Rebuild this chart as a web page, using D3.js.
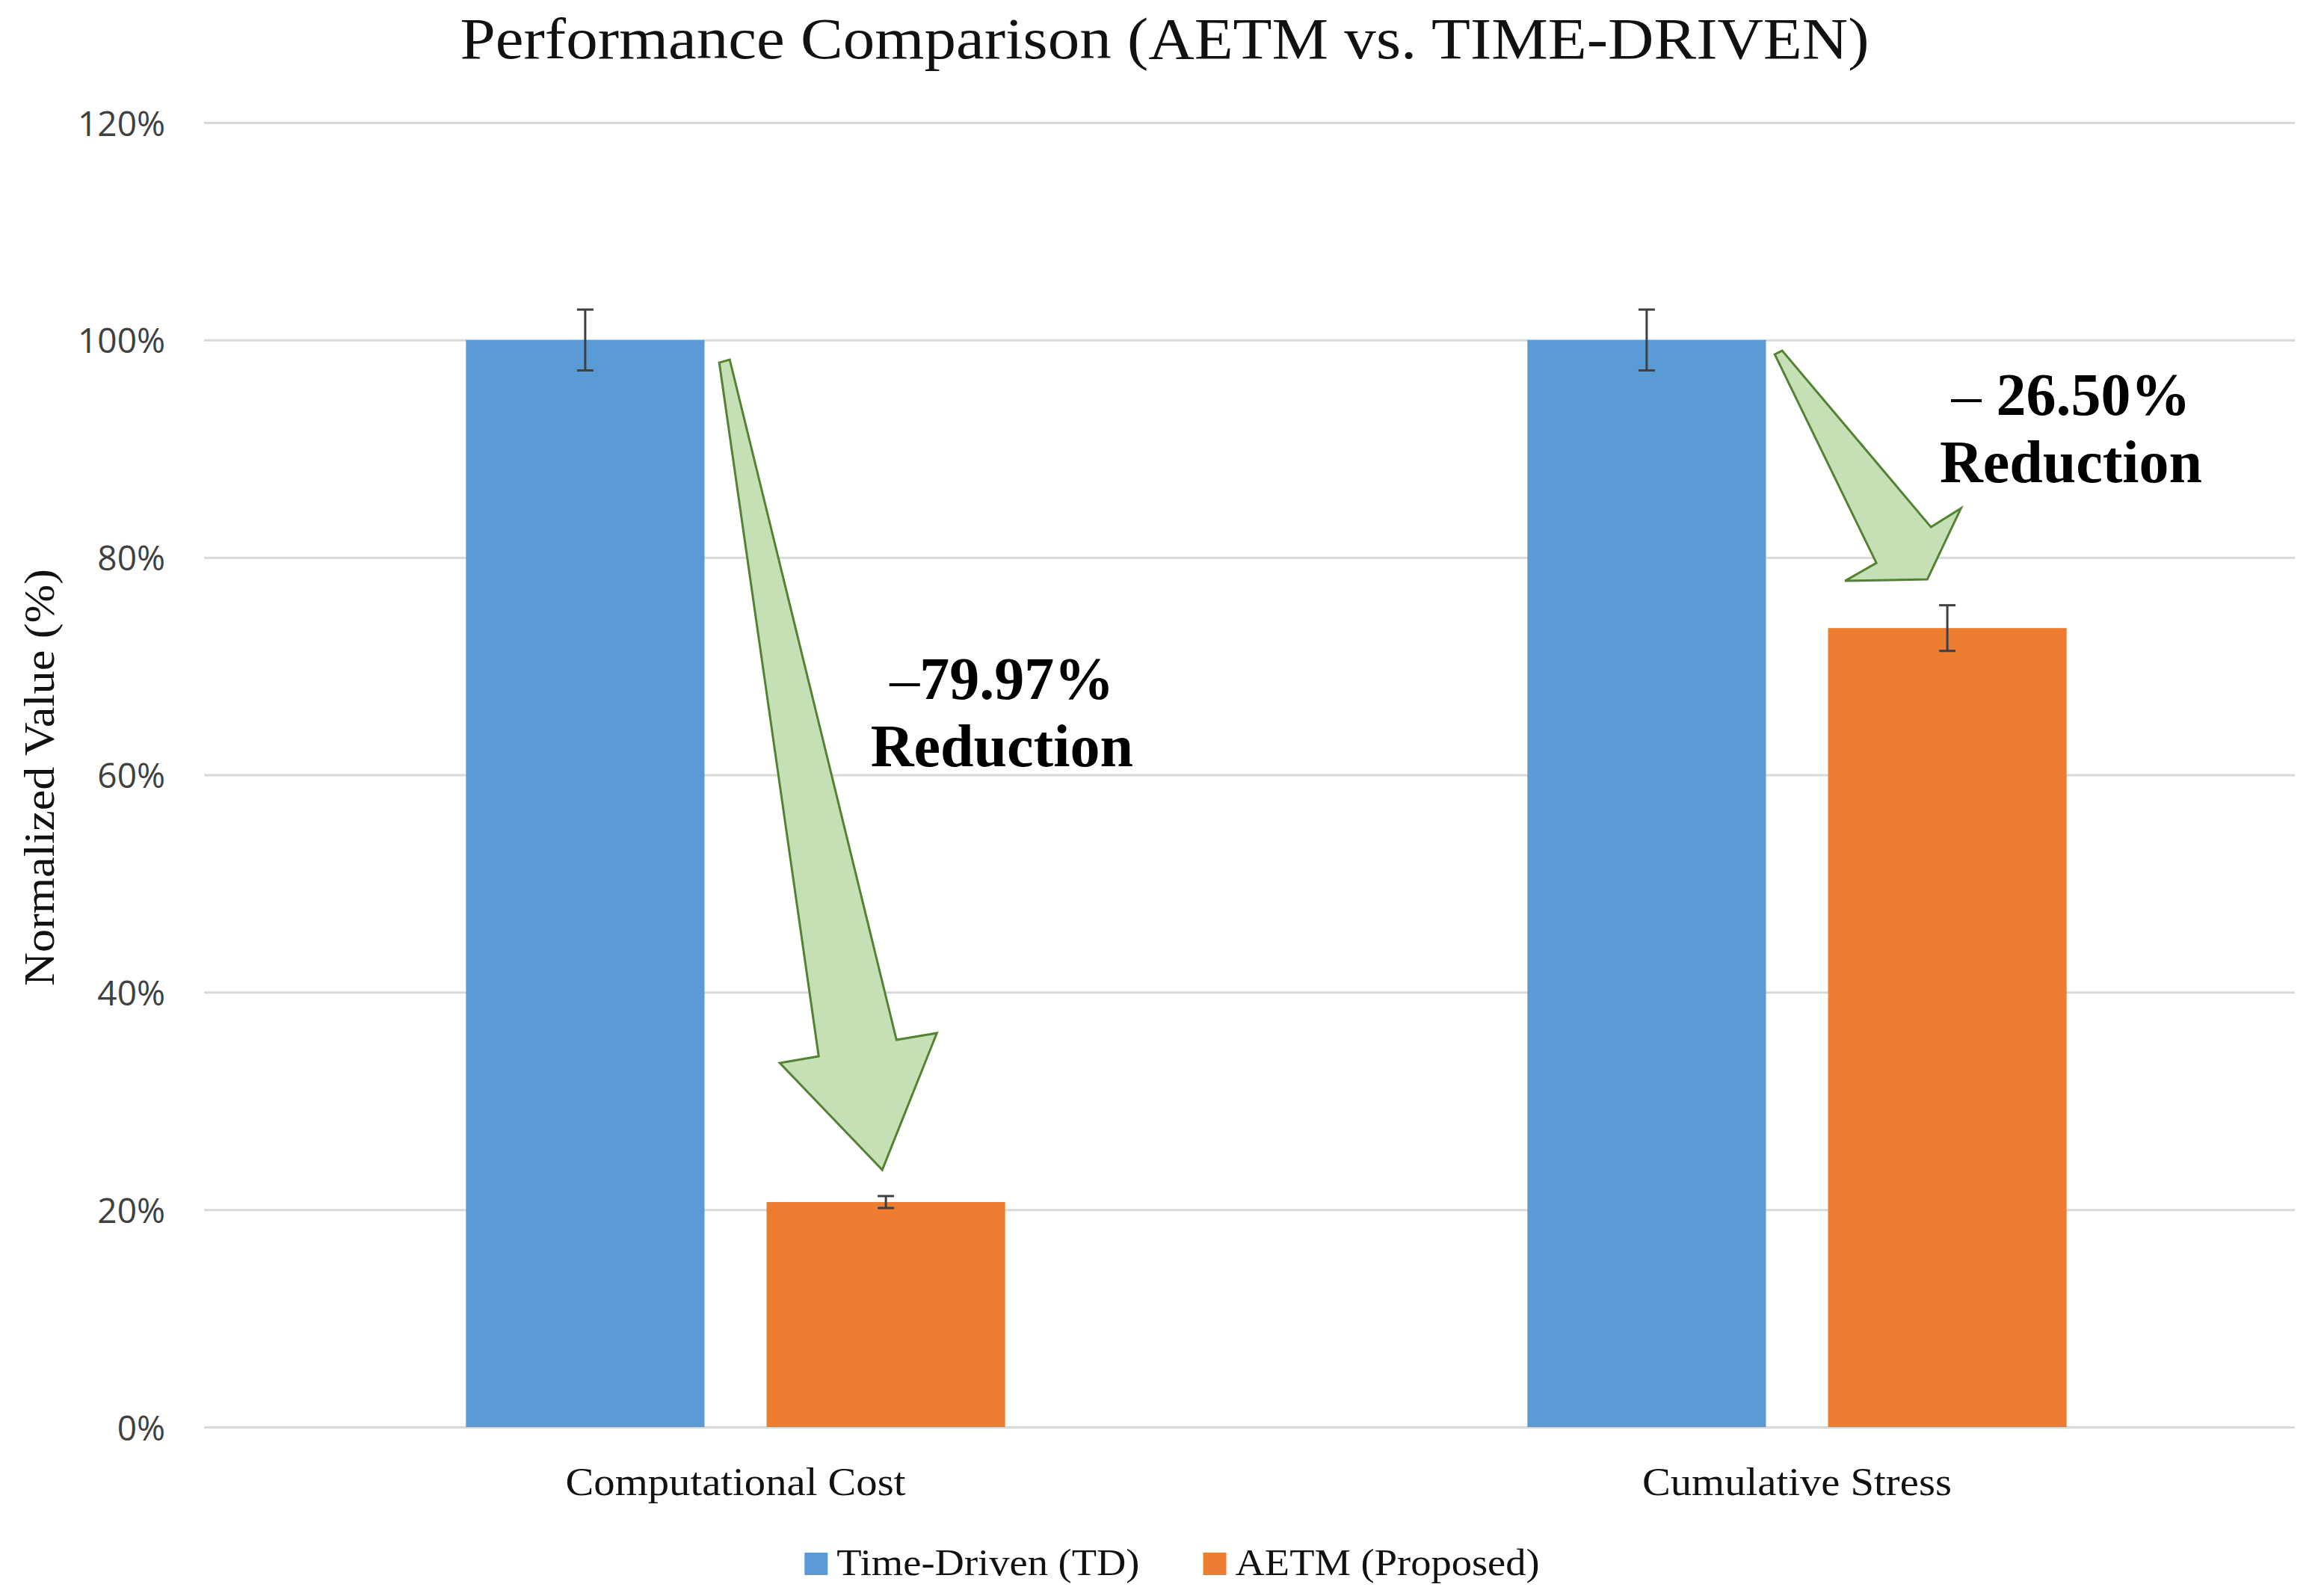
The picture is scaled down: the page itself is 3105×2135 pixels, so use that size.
<!DOCTYPE html>
<html>
<head>
<meta charset="utf-8">
<script src="https://cdn.jsdelivr.net/npm/d3@7"></script>
<style>
  body { margin: 0; background: #fff; }
</style>
</head>
<body>
<div id="chart"></div>
<script>
// data
const categories = ["Computational Cost", "Cumulative Stress"];
const seriesNames = ["Time-Driven (TD)", "AETM (Proposed)"];
const tdValues = [100, 100];
const tdErrors = [2.8, 2.8];
const aetmValues = [20.7, 73.5];
const aetmErrors = [0.55, 2.1];
const yTicks = [0, 20, 40, 60, 80, 100, 120];
const reductionDash = ["–", "– "];
const reductionText = ["79.97%", "26.50%"];
// block arrows, each point = [fraction across the category group, value %]
const arrowShapes = [
  [[0.4698, 97.92], [0.4892, 98.2], [0.7985, 35.62], [0.8733, 36.24], [0.7721, 23.66], [0.5821, 33.49], [0.6542, 34.11]],
  [[0.4587, 98.68], [0.4725, 99.02], [0.7485, 82.79], [0.804, 84.51], [0.7416, 77.98], [0.589, 77.84], [0.6472, 79.49]]
];
// label anchor: [fraction across group, value of first line, value of second line]
const labelAnchors = [[0.994, 66.98, 60.79], [1.008, 93.11, 86.92]];

const W = 3105, H = 2135;
const plotLeft = 273, plotRight = 3070;
const serif = "'Palatino Linotype', 'Book Antiqua', Palatino, 'Liberation Serif', serif";
const sans = "'Segoe UI', 'Open Sans', 'Noto Sans', sans-serif";
const SERIF_STRETCH = 1.09;

const svg = d3.select("#chart").append("svg")
  .attr("width", W).attr("height", H)
  .style("background-color", "#fff");

const y = d3.scaleLinear().domain([0, 120]).range([1909, 164]);
const x0 = d3.scaleBand().domain(categories).range([274, 3114]).paddingInner(0.492).paddingOuter(0.246);
const x1 = d3.scaleBand().domain(seriesNames).range([0, x0.bandwidth()]).paddingInner(0.2065);
const color = d3.scaleOrdinal().domain(seriesNames).range(["#5B9BD5", "#ED7D31"]);

function stretch(sel, k) {
  sel.each(function () {
    const len = this.getComputedTextLength();
    d3.select(this).attr("textLength", len * k).attr("lengthAdjust", "spacingAndGlyphs");
  });
}

// gridlines + y labels
const yAxis = svg.append("g")
  .attr("transform", `translate(${plotLeft},0)`)
  .call(d3.axisLeft(y).tickValues(yTicks).tickSize(-(plotRight - plotLeft)).tickPadding(52).tickFormat((d) => d + "%"));
yAxis.select(".domain").remove();
yAxis.selectAll("line").style("stroke", "#d9d9d9").style("stroke-width", 3);
yAxis.selectAll("text")
  .style("font-family", sans).style("font-size", "46px").style("fill", "#404040")
  .attr("dy", "0.37em");

// bars
const rows = categories.map((c, i) => [
  { cat: c, s: seriesNames[0], v: tdValues[i], e: tdErrors[i] },
  { cat: c, s: seriesNames[1], v: aetmValues[i], e: aetmErrors[i] }
]);

const groups = svg.append("g").selectAll("g")
  .data(rows).enter().append("g")
  .attr("transform", (d, i) => `translate(${x0(categories[i])},0)`);

groups.selectAll("rect")
  .data((d) => d).enter().append("rect")
  .attr("x", (d) => x1(d.s))
  .attr("width", x1.bandwidth())
  .attr("y", (d) => y(d.v))
  .attr("height", (d) => y(0) - y(d.v))
  .style("fill", (d) => color(d.s));

// error bars
const cap = 11;
const err = groups.selectAll("g.err")
  .data((d) => d).enter().append("g").classed("err", true)
  .attr("transform", (d) => `translate(${x1(d.s) + x1.bandwidth() / 2},0)`)
  .style("stroke", "#404040").style("stroke-width", 3);
err.append("line").attr("x1", 0).attr("x2", 0).attr("y1", (d) => y(d.v + d.e)).attr("y2", (d) => y(d.v - d.e));
err.append("line").attr("x1", -cap).attr("x2", cap).attr("y1", (d) => y(d.v + d.e)).attr("y2", (d) => y(d.v + d.e));
err.append("line").attr("x1", -cap).attr("x2", cap).attr("y1", (d) => y(d.v - d.e)).attr("y2", (d) => y(d.v - d.e));

// arrows
const gx = (i, u) => x0(categories[i]) + u * x0.bandwidth();
const arrowLine = d3.line();
svg.append("g").selectAll("path")
  .data(arrowShapes).enter().append("path")
  .attr("d", (pts, i) => arrowLine(pts.map((p) => [gx(i, p[0]), y(p[1])])) + "Z")
  .style("fill", "#C5E0B4")
  .style("stroke", "#548235")
  .style("stroke-width", 3)
  .style("stroke-linejoin", "miter");

// reduction labels
labelAnchors.forEach((a, i) => {
  const t1 = svg.append("text")
    .attr("x", gx(i, a[0])).attr("y", y(a[1]))
    .attr("text-anchor", "middle")
    .style("font-family", serif).style("font-size", "80px").style("fill", "#000");
  t1.append("tspan").style("font-weight", "normal").text(reductionDash[i]);
  t1.append("tspan").style("font-weight", "bold").text(reductionText[i]);
  svg.append("text")
    .attr("x", gx(i, a[0])).attr("y", y(a[2]))
    .attr("text-anchor", "middle")
    .style("font-family", serif).style("font-size", "80px").style("font-weight", "bold").style("fill", "#000")
    .text("Reduction");
});

// x labels
svg.append("g").selectAll("text")
  .data(categories).enter().append("text")
  .attr("x", (d) => x0(d) + x0.bandwidth() / 2)
  .attr("y", 2000)
  .attr("text-anchor", "middle")
  .style("font-family", serif).style("font-size", "52px").style("fill", "#111")
  .text((d) => d)
  .call(stretch, SERIF_STRETCH);

// title
svg.append("text")
  .attr("x", 1558).attr("y", 78)
  .attr("text-anchor", "middle")
  .style("font-family", serif).style("font-size", "78px").style("fill", "#111")
  .text("Performance Comparison (AETM vs. TIME-DRIVEN)")
  .call(stretch, SERIF_STRETCH);

// y title
svg.append("text")
  .attr("transform", "translate(72,1040) rotate(-90)")
  .attr("text-anchor", "middle")
  .style("font-family", serif).style("font-size", "57px").style("fill", "#111")
  .text("Normalized Value (%)")
  .call(stretch, SERIF_STRETCH);

// legend
const legend = svg.append("g");
let cursor = 0;
seriesNames.forEach((s) => {
  legend.append("rect")
    .attr("x", cursor).attr("y", 2077).attr("width", 31).attr("height", 30)
    .style("fill", color(s));
  const t = legend.append("text")
    .attr("x", cursor + 43).attr("y", 2107)
    .style("font-family", serif).style("font-size", "50px").style("fill", "#111")
    .text(s)
    .call(stretch, SERIF_STRETCH);
  cursor += 43 + +t.attr("textLength") + 85;
});
const legendWidth = cursor - 85;
legend.attr("transform", `translate(${1568 - legendWidth / 2},0)`);
</script>
</body>
</html>
